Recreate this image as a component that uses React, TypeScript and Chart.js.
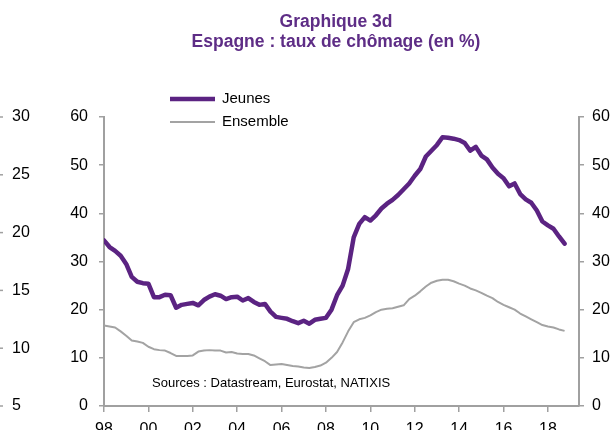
import React, { useEffect, useRef } from 'react';
import { Chart, registerables } from 'chart.js';

Chart.register(...registerables);

const TITLE = 'Graphique 3d';
const SUBTITLE = 'Espagne : taux de chômage (en %)';
const SOURCE = 'Sources : Datastream, Eurostat, NATIXIS';
const SERIES_NAMES = ['Jeunes', 'Ensemble'];

// quarterly observations starting 1998 Q1
const START_YEAR = 1998;
const STEP = 0.25;

const JEUNES = [
  34.4, 33.0, 32.2, 31.2,
  29.5, 26.8, 25.8, 25.5,
  25.4, 22.6, 22.6, 23.1,
  23.0, 20.4, 21.0, 21.2,
  21.4, 20.9, 22.0, 22.7,
  23.2, 22.9, 22.2, 22.6,
  22.7, 21.9, 22.4, 21.6,
  21.0, 21.2, 19.6, 18.5,
  18.3, 18.1, 17.6, 17.2,
  17.7, 17.1, 17.9, 18.1,
  18.3, 20.0, 23.0, 25.0,
  28.5, 35.0, 37.8, 39.2,
  38.5, 39.6, 41.0, 42.0,
  42.8, 43.8, 45.0, 46.2,
  47.8, 49.2, 51.8, 53.0,
  54.2, 55.8, 55.7, 55.5,
  55.2, 54.6, 53.0, 53.8,
  52.0, 51.2, 49.5, 48.2,
  47.3, 45.6, 46.2, 44.0,
  42.9, 42.2, 40.6, 38.3,
  37.5, 36.8, 35.2, 33.7,
];

const ENSEMBLE = [
  16.7, 16.5, 16.3, 15.5,
  14.6, 13.6, 13.4, 13.1,
  12.3, 11.8, 11.6, 11.5,
  11.0, 10.4, 10.4, 10.4,
  10.5, 11.3, 11.5, 11.6,
  11.5, 11.5, 11.1, 11.2,
  10.9, 10.8, 10.8, 10.5,
  9.9, 9.3, 8.5, 8.6,
  8.7, 8.5, 8.3, 8.2,
  8.0, 7.9, 8.1, 8.4,
  9.0, 10.0, 11.2, 13.2,
  15.5, 17.4, 18.0, 18.3,
  18.8, 19.5, 20.0, 20.2,
  20.3, 20.6, 20.9, 22.2,
  22.9, 23.8, 24.8, 25.6,
  26.0, 26.2, 26.2, 25.9,
  25.4, 25.0, 24.4, 24.0,
  23.5, 22.9, 22.4, 21.6,
  21.0, 20.5, 20.0, 19.2,
  18.6, 18.0, 17.4, 16.8,
  16.5, 16.3, 15.9, 15.6,
];

const X_TICKS = [1998, 2000, 2002, 2004, 2006, 2008, 2010, 2012, 2014, 2016, 2018];
const Y_TICKS = [0, 10, 20, 30, 40, 50, 60];
const OUTER_TICKS = [5, 10, 15, 20, 25, 30];

const FONT = "'Liberation Sans', Arial, sans-serif";
const PURPLE = '#5B2382';
const TITLE_COLOR = '#5E2D86';
const GREY_LINE = '#A3A3A3';
const AXIS = '#A0A0A0';

const decorPlugin = {
  id: 'decor',
  afterDraw(chart: any) {
    const ctx = chart.ctx;
    ctx.save();
    // titles
    ctx.fillStyle = TITLE_COLOR;
    ctx.textAlign = 'center';
    ctx.textBaseline = 'middle';
    ctx.font = `bold 17.5px ${FONT}`;
    ctx.fillText(TITLE, 336, 22);
    ctx.fillText(SUBTITLE, 336, 42);

    // legend
    const ly = [99, 122];
    chart.data.datasets.forEach((ds: any, i: number) => {
      ctx.strokeStyle = ds.borderColor;
      ctx.lineWidth = ds.borderWidth;
      ctx.lineCap = 'butt';
      ctx.beginPath();
      ctx.moveTo(170, ly[i]);
      ctx.lineTo(215, ly[i]);
      ctx.stroke();
      ctx.fillStyle = '#000';
      ctx.textAlign = 'left';
      ctx.font = `15px ${FONT}`;
      ctx.fillText(ds.label, 222, ly[i]);
    });

    // source
    ctx.font = `13px ${FONT}`;
    ctx.fillStyle = '#000';
    ctx.textAlign = 'left';
    ctx.fillText(SOURCE, 152, 383);

    // outer (neighbouring) axis
    const y3 = chart.scales.y3;
    ctx.strokeStyle = AXIS;
    ctx.lineWidth = 1.5;
    ctx.font = `16px ${FONT}`;
    OUTER_TICKS.forEach((v) => {
      const py = y3.getPixelForValue(v);
      ctx.beginPath();
      ctx.moveTo(0, py);
      ctx.lineTo(3, py);
      ctx.stroke();
      ctx.fillText(String(v), 12, py);
    });
    ctx.restore();
  },
};

export default function App() {
  const ref = useRef<HTMLCanvasElement | null>(null);

  useEffect(() => {
    if (!ref.current) return;
    const toPoints = (arr: number[]) => arr.map((v, i) => ({ x: START_YEAR + i * STEP, y: v }));
    const yTicksBuild = (s: any) => {
      s.ticks = Y_TICKS.map((v) => ({ value: v }));
    };
    const chart = new Chart(ref.current, {
      type: 'line',
      data: {
        datasets: [
          {
            label: SERIES_NAMES[0],
            data: toPoints(JEUNES),
            borderColor: PURPLE,
            backgroundColor: PURPLE,
            borderWidth: 4.5,
            pointRadius: 0,
            tension: 0,
            borderJoinStyle: 'round',
            borderCapStyle: 'round',
            xAxisID: 'x',
            yAxisID: 'y',
          },
          {
            label: SERIES_NAMES[1],
            data: toPoints(ENSEMBLE),
            borderColor: GREY_LINE,
            backgroundColor: GREY_LINE,
            borderWidth: 2,
            pointRadius: 0,
            tension: 0,
            borderJoinStyle: 'round',
            xAxisID: 'x',
            yAxisID: 'y',
          },
        ],
      },
      options: {
        responsive: false,
        animation: false,
        devicePixelRatio: 1,
        layout: { padding: { top: 117, left: 0, right: 0, bottom: 0 } },
        plugins: {
          legend: { display: false },
          title: { display: false },
          tooltip: { enabled: false },
        },
        scales: {
          x: {
            type: 'linear',
            min: 1998,
            max: 2019.4,
            afterBuildTicks: (s: any) => {
              s.ticks = X_TICKS.map((v) => ({ value: v }));
            },
            afterFit: (s: any) => {
              s.height = 24;
            },
            ticks: {
              callback: (v: any) => String(v).slice(2),
              font: { family: FONT, size: 16 },
              color: '#000',
              padding: 8,
              maxRotation: 0,
              autoSkip: false,
            },
            grid: { drawOnChartArea: false, tickLength: 6, color: AXIS, lineWidth: 1.5 },
            border: { color: AXIS, width: 2 },
          },
          y: {
            position: 'left',
            min: 0,
            max: 60,
            afterBuildTicks: yTicksBuild,
            afterFit: (s: any) => {
              s.width = 104;
            },
            ticks: { font: { family: FONT, size: 16 }, color: '#000', padding: 11 },
            grid: { drawOnChartArea: false, tickLength: 5, color: AXIS, lineWidth: 1.5 },
            border: { color: AXIS, width: 2 },
          },
          y2: {
            position: 'right',
            min: 0,
            max: 60,
            afterBuildTicks: yTicksBuild,
            afterFit: (s: any) => {
              s.width = 32;
            },
            ticks: { font: { family: FONT, size: 16 }, color: '#000', padding: 8 },
            grid: { drawOnChartArea: false, tickLength: 5, color: AXIS, lineWidth: 1.5 },
            border: { color: AXIS, width: 2 },
          },
          y3: {
            display: false,
            position: 'left',
            min: 5,
            max: 30,
          },
        },
      } as any,
      plugins: [decorPlugin],
    });
    return () => chart.destroy();
  }, []);

  return (
    <div style={{ position: 'fixed', left: 0, top: 0, width: 611, height: 430, background: '#fff' }}>
      <canvas ref={ref} width={611} height={430} style={{ width: 611, height: 430 }} />
    </div>
  );
}
